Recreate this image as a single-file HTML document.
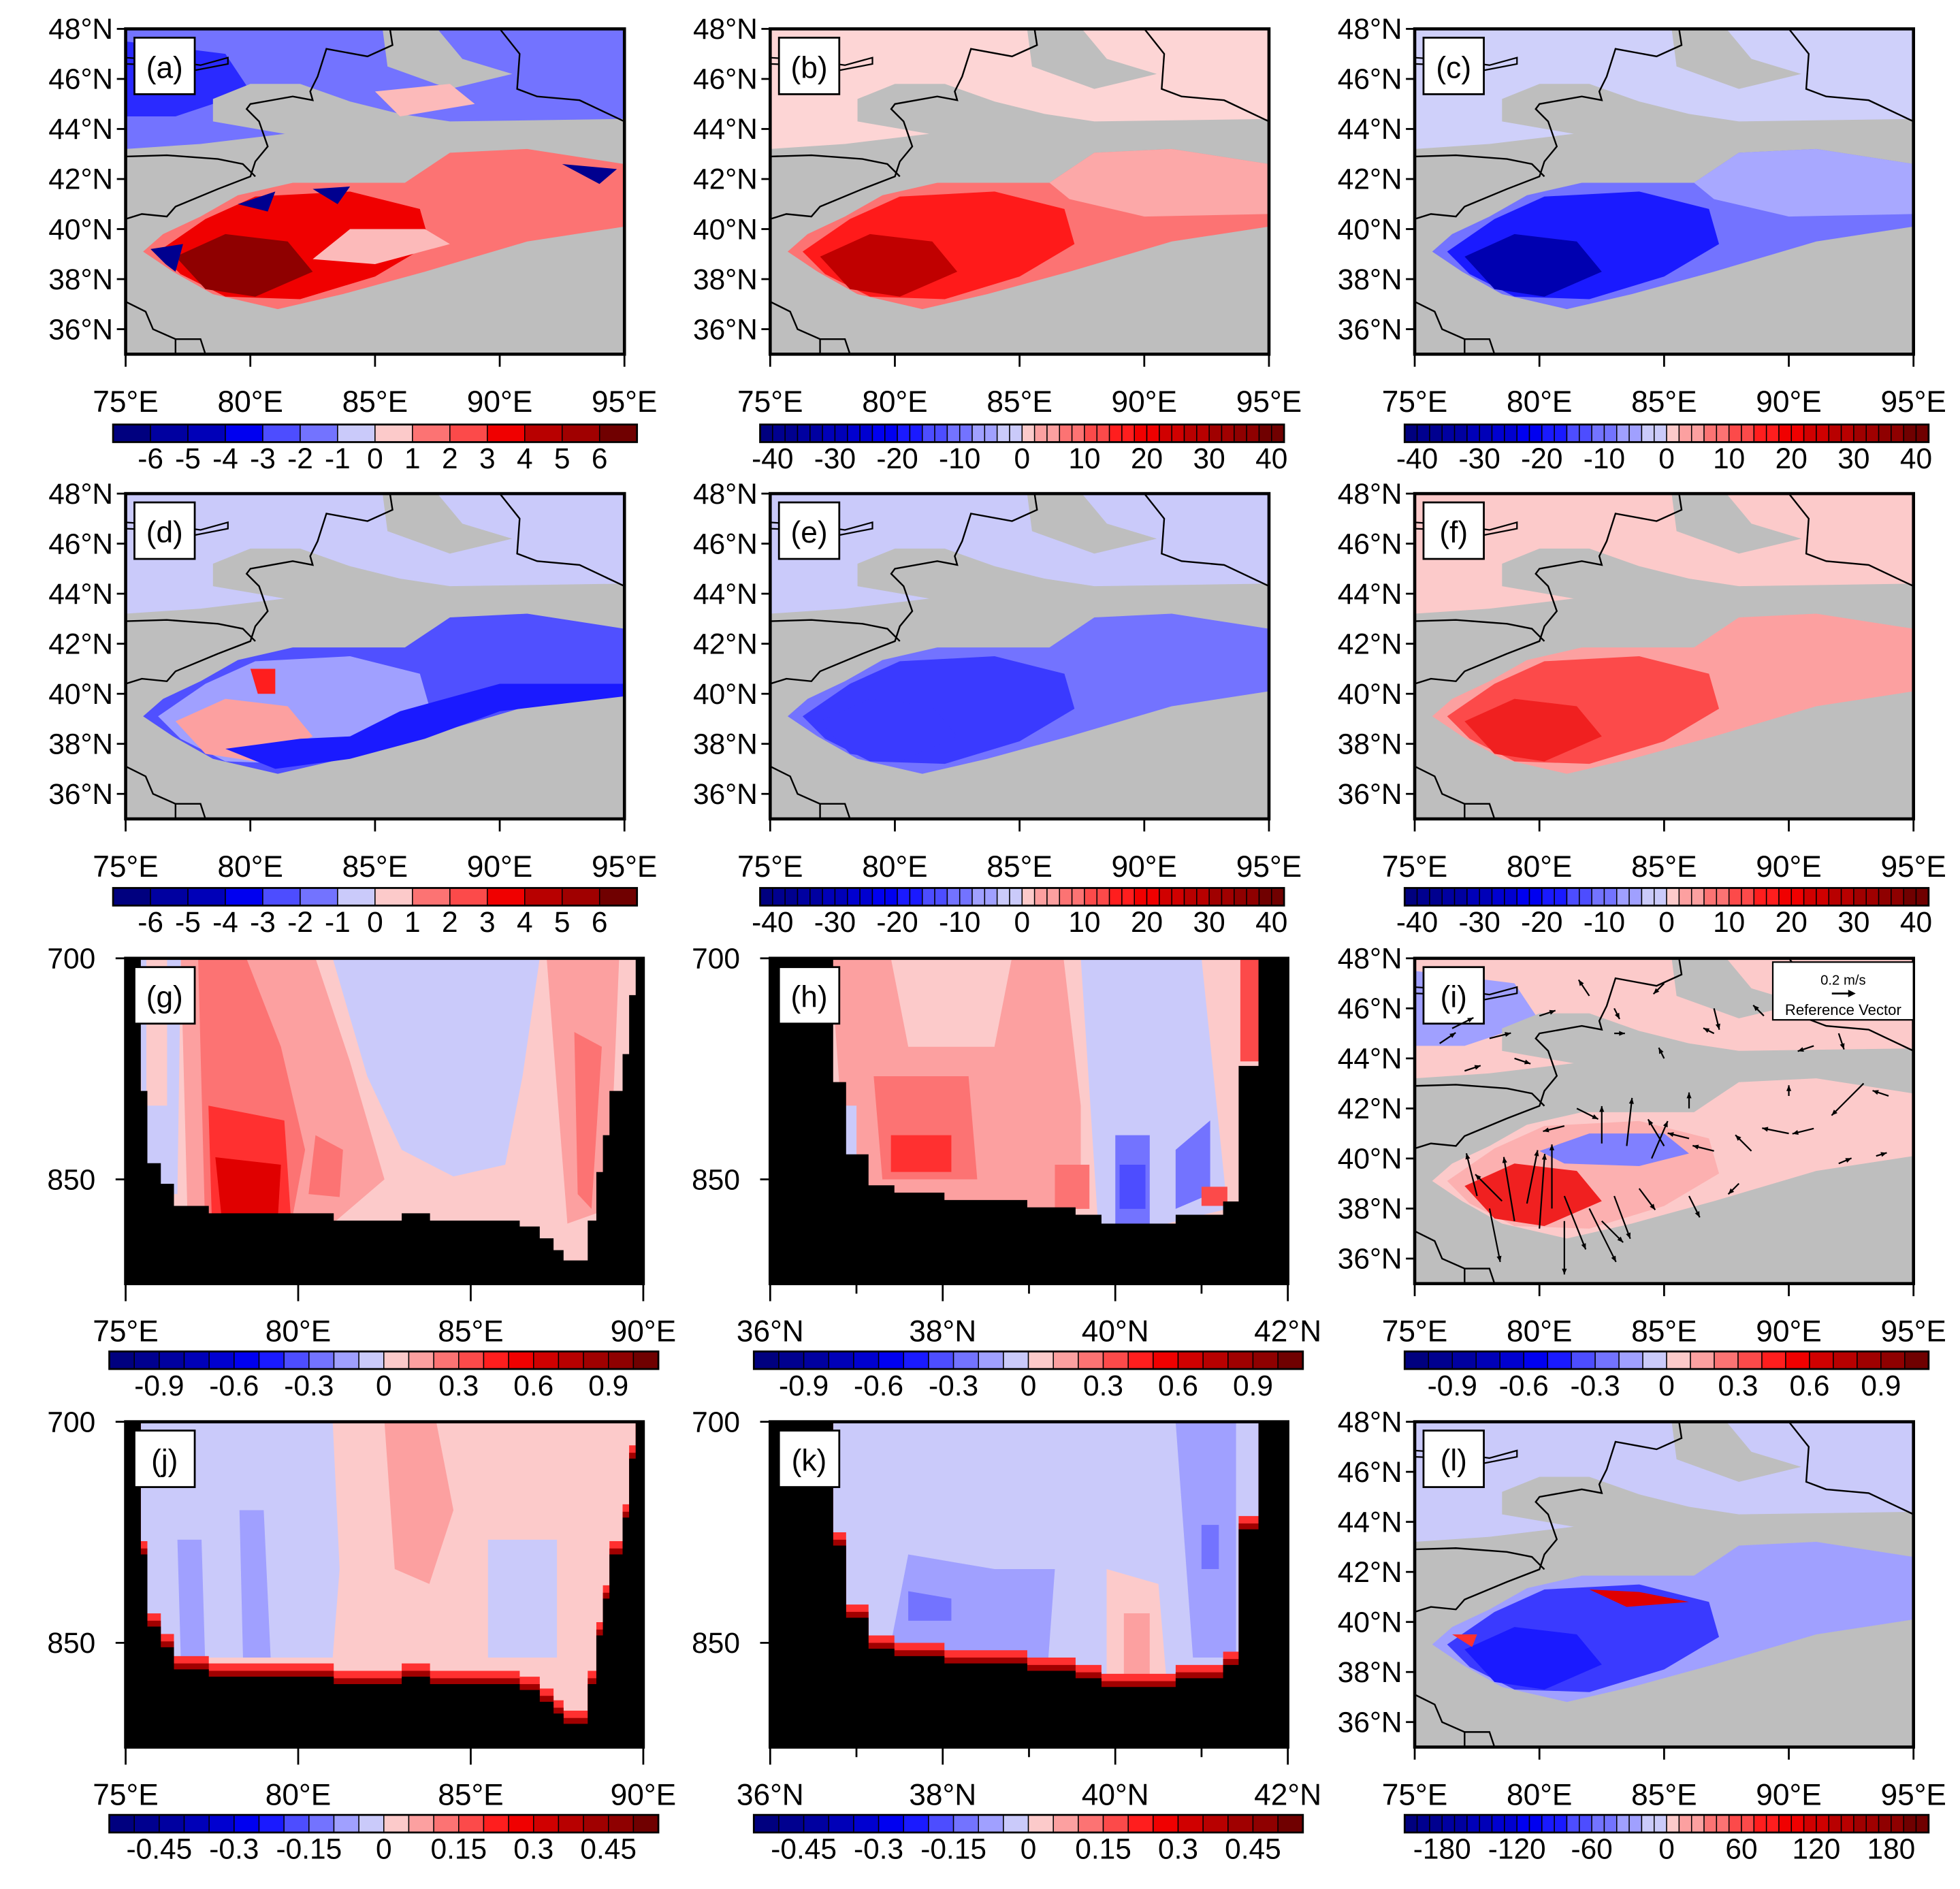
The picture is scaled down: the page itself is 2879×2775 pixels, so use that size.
<!DOCTYPE html>
<html><head><meta charset="utf-8"><style>
html,body{margin:0;padding:0;background:#fff;}
svg{display:block;}
text{font-family:"Liberation Sans",Arial,sans-serif;fill:#000;}
</style></head><body>
<svg id="fig" xmlns="http://www.w3.org/2000/svg" width="2879" height="2775" viewBox="0 0 1560 1504" preserveAspectRatio="none"></svg>
<script>
// ---------- data ----------
const blobOuter=[[75.7,39.1],[76.5,39.8],[78,40.5],[79.5,41.35],[81.7,41.85],[86.2,41.85],[88,43.05],[91.1,43.2],[95,42.6],[95,40.1],[91.1,39.5],[87,38.3],[83.7,37.4],[81.1,36.8],[78.5,37.4],[76.9,38.3]];
const blobInner=[[76.3,39.1],[78.2,40.4],[80.2,41.3],[84,41.5],[86.8,40.8],[87.2,39.4],[85,38.1],[82,37.2],[79,37.3],[77.2,38.2]];
const blobCore=[[77.0,38.9],[79,39.8],[81.5,39.5],[82.5,38.3],[80.2,37.3],[78.2,37.6]];
const grayBands=[[[78.5,45.2],[80,45.8],[82,45.8],[84,45.1],[86,44.6],[88,44.3],[95,44.4],[95,43.6],[88,43.4],[82,43.7],[78.5,44.3]],
 [[85.3,48],[87.5,48],[88.5,46.8],[90.5,46.2],[88,45.6],[85.5,46.5]],
 [[86.2,41.85],[88,43.05],[91,43.2],[91,42.2],[88.5,42],[86.5,41.4]]];
const borders=[[[85.6,48],[85.7,47.35],[84.7,46.9],[83.05,47.2],[82.7,46.1],[82.4,45.5],[82.5,45.15],[81.7,45.3],[80.0,45.0],[79.85,44.8],[80.35,44.3],[80.7,43.3],[80.2,42.7],[80.0,42.1],[78.7,41.6],[77.0,40.9],[76.65,40.5],[75.65,40.6],[75,40.4]],
 [[75,42.9],[76.65,42.95],[78.7,42.8],[79.7,42.6],[80.2,42.1]],
 [[90,48],[90.8,47],[90.7,45.6],[91.5,45.3],[93.2,45.15],[95,44.3]],
 [[75,37.1],[75.8,36.7],[76.1,36],[77,35.6],[77,35]],
 [[77,35.6],[78,35.6],[78.2,35]]];
const lake=[[75,46.85],[76.5,46.75],[78,46.55],[79.1,46.85],[79.1,46.6],[77.8,46.35],[76.3,46.55],[75,46.6]];
// cross-section terrain: edges & surface pressure (hPa)
const gLon=[75,75.44,75.63,76.02,76.4,77.41,81.03,83.0,83.82,86.42,87.0,87.4,87.69,88.39,88.64,88.83,89.02,89.4,89.59,89.78,90];
const gP=[700,790,839,853,868,873,878,873,878,882,890,898,905,878,845,820,790,765,725,700];
const hLat=[36,36.73,36.88,37.14,37.44,38.02,38.98,39.54,39.84,40.70,41.25,41.43,41.66,42];
const hP=[700,784,833,854,859,864,869,874,880,874,865,773,700];
// color levels
const cbA=[-7,-6,-5,-4,-3,-2,-1,0,1,2,3,4,5,6,7];
const cbB=[];for(let v=-42;v<=42;v+=2)cbB.push(v);
const cbG=[];for(let v=-11;v<=11;v++)cbG.push(v/10);
const cbJ=[];for(let v=-11;v<=11;v++)cbJ.push(v*0.05);
const cbL=[];for(let v=-210;v<=210;v+=10)cbL.push(v);
const labA=[-6,-5,-4,-3,-2,-1,0,1,2,3,4,5,6];
const labB=[-40,-30,-20,-10,0,10,20,30,40];
const labG=[-0.9,-0.6,-0.3,0,0.3,0.6,0.9];
const labJ=[-0.45,-0.3,-0.15,0,0.15,0.3,0.45];
const labL=[-180,-120,-60,0,60,120,180];
// wind vectors (lon,lat,u,v m/s)
const wLon=[77.5,78,78.5,79,79.5,80,80.5,81,81,82,82.5,83,84,84.5,83.5,82.5,85,86,87,88.5,90,91,92,93.5,86,88,76.5,76,78,80,82,85,87,89,91,92,93,87,83,79,77,90,86,94,81,81.5,83,85];
const wLat=[38.5,38,38.3,37.5,38.2,37.2,38,37.5,38.5,38,37.5,38.5,38.8,40,40.5,40.6,40.5,40.8,40.3,40.3,41,41.2,39.8,40.1,38.5,39,45.2,44.6,44.8,45.7,46.5,47,46,45.7,44.5,45,43,45,45,44,43.5,42.5,42,42.5,41.3,42,46,44];
const wU=[-0.1,0.1,-0.25,-0.1,0.1,0.05,0,0,0.2,0.25,0.2,0.15,0.15,0.15,0.05,0,-0.15,-0.2,-0.2,-0.15,-0.25,-0.2,0.12,0.1,0.1,-0.1,0.2,0.15,0.2,0.15,-0.1,-0.1,0.05,-0.1,-0.15,0.05,-0.3,-0.1,0.1,0.15,0.15,0,0,-0.15,-0.2,0.2,0.05,-0.05];
const wV=[0.4,-0.5,0.25,0.6,0.5,0.7,0.6,-0.5,-0.5,-0.5,-0.2,-0.4,-0.2,0.35,0.45,0.35,0.25,0.05,0.05,0.15,0.05,-0.05,0.05,0.03,-0.2,-0.1,0.1,0.1,0.05,0.05,0.15,-0.1,-0.2,0.1,-0.05,-0.15,-0.3,0.05,0,-0.05,0.05,0.1,0.15,0.05,-0.05,-0.1,-0.1,0.1];

// ---------- helpers ----------
const NS='http://www.w3.org/2000/svg';
const svg=document.getElementById('fig');
function el(tag,attrs,parent){const e=document.createElementNS(NS,tag);for(const k in attrs)e.setAttribute(k,attrs[k]);(parent||svg).appendChild(e);return e;}
const BLUES=['#00007f','#00008f','#0000a0','#0000b8','#0000d0','#0000f0','#1a1aff','#4d4dff','#7373ff','#a0a0ff','#cacafa'];
const REDS=['#fccaca','#fca0a0','#fc7373','#fc4a4a','#ff1e1e','#f00000','#d00000','#b80000','#a00000','#8f0000','#700000'];
function pal(i,n){const h=n/2;if(i<h){return BLUES[Math.round(i/(h-1||1)*10)];}return REDS[Math.round((i-h)/(h-1||1)*10)];}
function colorbar(x0,y,w,levels,labels,name){
  const g=el('g',{});
  const n=levels.length-1, bw=w/n;
  for(let i=0;i<n;i++){el('rect',{x:x0+i*bw,y:y,width:bw,height:14,fill:pal(i,n),stroke:'#000','stroke-width':0.8},g);}
  el('rect',{x:x0,y:y,width:w,height:14,fill:'none',stroke:'#000','stroke-width':1.5},g);
  labels.forEach(v=>{let idx=0,b=1e9;levels.forEach((l,i)=>{if(Math.abs(l-v)<b){b=Math.abs(l-v);idx=i;}});
    const t=el('text',{x:x0+idx*bw,y:y+35,'font-size':23,'text-anchor':'middle'},g);t.textContent=String(v);});
}
function panelLabel(x,y,s,g){el('rect',{x:x+7,y:y+7,width:48,height:45,fill:'#fff',stroke:'#000','stroke-width':1.5},g);
  const t=el('text',{x:x+31,y:y+39,'font-size':24,'text-anchor':'middle'},g);t.textContent='('+s+')';}
function mapPanel(x0,y0,letter,c){
  const W=397,H=259;
  const X=l=>x0+(l-75)*W/20, Y=a=>y0+(48-a)*H/13;
  const pts=a=>a.map(p=>X(p[0]).toFixed(1)+','+Y(p[1]).toFixed(1)).join(' ');
  const g=el('g',{});
  const cid='clip'+letter;const cp=el('clipPath',{id:cid},g);el('rect',{x:x0,y:y0,width:W,height:H},cp);
  const inner=el('g',{'clip-path':'url(#'+cid+')'},g);
  el('rect',{x:x0,y:y0,width:W,height:H,fill:'#bebebe'},inner);
  el('polygon',{points:pts([[75,48],[95,48],[95,43.8],[88,43.6],[83,44],[78,43.4],[75,43.2]]),fill:c.north},inner);
  if(c.north2)el('polygon',{points:pts([[75,47.5],[79,47],[80,45.5],[77,44.5],[75,44.5]]),fill:c.north2},inner);
  grayBands.forEach(b=>el('polygon',{points:pts(b),fill:'#bebebe'},inner));
  const bl=el('polygon',{points:pts(blobOuter),fill:c.outer},inner);
  el('polygon',{points:pts(blobInner),fill:c.inner},inner);
  el('polygon',{points:pts(blobCore),fill:c.core},inner);
  if(c.extra)c.extra(inner,X,Y,pts);
  borders.forEach(b=>el('polyline',{points:pts(b),fill:'none',stroke:'#000','stroke-width':1.3},inner));
  el('polygon',{points:pts(lake),fill:'none',stroke:'#000','stroke-width':1.2},inner);
  el('rect',{x:x0,y:y0,width:W,height:H,fill:'none',stroke:'#000','stroke-width':2.5},g);
  for(let a=36;a<=48;a+=2){el('line',{x1:x0-7,y1:Y(a),x2:x0,y2:Y(a),stroke:'#000','stroke-width':1.5},g);
    const t=el('text',{x:x0-10,y:Y(a)+8,'font-size':23,'text-anchor':'end'},g);t.textContent=a+'°N';}
  for(let l=75;l<=95;l+=5){el('line',{x1:X(l),y1:y0+H,x2:X(l),y2:y0+H+10,stroke:'#000','stroke-width':1.5},g);
    const t=el('text',{x:X(l),y:y0+H+46,'font-size':24,'text-anchor':'middle'},g);t.textContent=l+'°E';}
  panelLabel(x0,y0,letter,g);
  return {g,X,Y};
}
function crossPanel(x0,y0,letter,edges,pres,lo,hi,ticks,unit,c){
  const W=412,H=259;const X=v=>x0+(v-lo)*W/(hi-lo), P=p=>y0+(p-700)*176/150;
  const g=el('g',{});
  const cid='clip'+letter;const cp=el('clipPath',{id:cid},g);el('rect',{x:x0,y:y0,width:W,height:H},cp);
  const inner=el('g',{'clip-path':'url(#'+cid+')'},g);
  el('rect',{x:x0,y:y0,width:W,height:H,fill:c.bg},inner);
  c.fills.forEach(f=>el('polygon',{points:f[1].map(p=>X(p[0]).toFixed(1)+','+P(p[1]).toFixed(1)).join(' '),fill:f[0]},inner));
  function terr(off){let d='M'+X(edges[0])+','+P(960);for(let i=0;i<pres.length;i++){d+=' L'+X(edges[i])+','+P(pres[i]-off)+' L'+X(edges[i+1])+','+P(pres[i]-off);}d+=' L'+X(edges[edges.length-1])+','+P(960)+'Z';return d;}
  if(c.band){el('path',{d:terr(9),fill:'#ff3030'},inner);el('path',{d:terr(4),fill:'#a00000'},inner);}
  const tp=el('path',{d:terr(0),fill:'#000'},inner);
  el('rect',{x:x0,y:y0,width:W,height:H,fill:'none',stroke:'#000','stroke-width':2.5},g);
  [700,850].forEach(p=>{el('line',{x1:x0-8,y1:P(p),x2:x0,y2:P(p),stroke:'#000','stroke-width':1.5},g);
    const t=el('text',{x:x0-24,y:P(p)+8,'font-size':23,'text-anchor':'end'},g);t.textContent=p;});
  ticks.forEach((v,i)=>{el('line',{x1:X(v),y1:y0+H,x2:X(v),y2:y0+H+(i%2==0||unit=='E'?14:8),stroke:'#000','stroke-width':1.5},g);});
  ticks.filter((v,i)=>unit=='E'||i%2==0).forEach(v=>{const t=el('text',{x:X(v),y:y0+H+46,'font-size':24,'text-anchor':'middle'},g);t.textContent=v+'°'+unit;});
  panelLabel(x0,y0,letter,g);
}
// ---------- panels ----------
const C=[100,613,1126], R=[23,393,763,1132];
mapPanel(C[0],R[0],'a',{north:'#7373ff',north2:'#2a2aff',outer:'#fc7373',inner:'#f00000',core:'#8f0000',
 extra:(g,X,Y,pts)=>{[[[76,39.2],[77.3,39.4],[77,38.3],[76.6,38.6]],[[79.5,41],[81,41.5],[80.7,40.7]],[[82.5,41.6],[84,41.7],[83.5,41]],[[92.5,42.6],[94.7,42.4],[94,41.8]]].forEach(p=>el('polygon',{points:pts(p),fill:'#00008f'},g));
 el('polygon',{points:pts([[84,40],[87,40],[88,39.4],[85,38.6],[82.5,38.8]]),fill:'#fcbaba'},g);
 el('polygon',{points:pts([[85,45.5],[88,45.8],[89,45],[86,44.5]]),fill:'#fcbaba'},g);}});
mapPanel(C[1],R[0],'b',{north:'#fdd5d5',outer:'#fc7373',inner:'#ff1a1a',core:'#c00000',
 extra:(g,X,Y,pts)=>el('polygon',{points:pts([[86.2,41.85],[88,43.05],[91.1,43.2],[95,42.6],[95,40.6],[90,40.5],[87,41.2]]),fill:'#fca8a8'},g)});
mapPanel(C[2],R[0],'c',{north:'#cfd0fa',outer:'#7373ff',inner:'#1a1aff',core:'#0000b0',
 extra:(g,X,Y,pts)=>el('polygon',{points:pts([[86.2,41.85],[88,43.05],[91.1,43.2],[95,42.6],[95,40.6],[90,40.5],[87,41.2]]),fill:'#a8a8ff'},g)});
mapPanel(C[0],R[1],'d',{north:'#cacafa',outer:'#5050ff',inner:'#a0a0ff',core:'#fca0a0',
 extra:(g,X,Y,pts)=>{el('polygon',{points:pts([[80,41],[81,41],[81,40],[80.3,40]]),fill:'#ff1e1e'},g);
 el('polygon',{points:pts([[86,39.3],[90,40.4],[95,40.4],[95,39.9],[90,39.3],[87,38.2],[84,37.4],[81,37.0],[79,37.8],[82,38.2],[84,38.3]]),fill:'#1a1aff'},g);}});
mapPanel(C[1],R[1],'e',{north:'#cacafa',outer:'#7373ff',inner:'#3a3aff',core:'#3a3aff'});
mapPanel(C[2],R[1],'f',{north:'#fccaca',outer:'#fca0a0',inner:'#fc4a4a',core:'#f02020'});
const pi=mapPanel(C[2],R[2],'i',{north:'#fccaca',north2:'#a0a0ff',outer:'#fccaca',inner:'#fcb0b0',core:'#f02020',
 extra:(g,X,Y,pts)=>el('polygon',{points:pts([[80,40.3],[82,41],[85,41],[86,40.2],[84,39.7],[81,39.8]]),fill:'#8080ff'},g)});
// vectors
(function(){const X=pi.X,Y=pi.Y,S=85;const vg=el('g',{});
 for(let i=0;i<wLon.length;i++){const x1=X(wLon[i]),y1=Y(wLat[i]),x2=x1+wU[i]*S,y2=y1-wV[i]*S;
  el('line',{x1,y1,x2,y2,stroke:'#000','stroke-width':1.2},vg);
  const a=Math.atan2(y2-y1,x2-x1),h=5;
  el('polygon',{points:[x2,y2,x2-h*Math.cos(a-0.4),y2-h*Math.sin(a-0.4),x2-h*Math.cos(a+0.4),y2-h*Math.sin(a+0.4)].join(','),fill:'#000'},vg);}
 const rb=el('g',{});
 el('rect',{x:1411,y:766,width:112,height:46,fill:'#fff',stroke:'#000','stroke-width':1.2},rb);
 let t=el('text',{x:1467,y:784,'font-size':11,'text-anchor':'middle'},rb);t.textContent='0.2 m/s';
 el('line',{x1:1458,y1:791,x2:1475,y2:791,stroke:'#000','stroke-width':1.5},rb);
 el('polygon',{points:'1477,791 1471,788 1471,794',fill:'#000'},rb);
 t=el('text',{x:1467,y:808,'font-size':12,'text-anchor':'middle'},rb);t.textContent='Reference Vector';})();
mapPanel(C[2],R[3],'l',{north:'#cacafa',outer:'#a0a0ff',inner:'#3a3aff',core:'#1a1aff',
 extra:(g,X,Y,pts)=>{el('polygon',{points:pts([[82,41.3],[84,41.2],[86,40.8],[83.5,40.6]]),fill:'#e00000'},g);
 el('polygon',{points:pts([[76.5,39.5],[77.5,39.5],[77.3,39]]),fill:'#ff3030'},g);}});
// cross sections
crossPanel(C[0],R[2],'g',gLon,gP,75,90,[75,80,85,90],'E',{bg:'#fccaca',fills:[
 ['#cacafa',[[81,700],[87,700],[86.5,780],[86,840],[84.5,848],[83,830],[82,780],[81.5,740]]],
 ['#fca0a0',[[76.6,700],[80.5,700],[81.5,770],[82.5,850],[81,880],[76.8,880]]],
 ['#fc7373',[[77.1,700],[78.5,700],[79.5,760],[80.2,830],[79.8,880],[77.3,880]]],
 ['#ff3030',[[77.4,800],[79.6,810],[79.8,880],[77.5,880]]],
 ['#e00000',[[77.6,835],[79.5,840],[79.4,880],[77.8,880]]],
 ['#fc7373',[[80.5,820],[81.3,830],[81.2,862],[80.3,860]]],
 ['#fca0a0',[[87.2,700],[89.3,700],[89,870],[87.8,880]]],
 ['#fc7373',[[88,750],[88.8,760],[88.5,870],[88.1,860]]],
 ['#cacafa',[[75.4,700],[76.6,700],[76.5,860],[75.5,860]]],
 ['#fccaca',[[75.6,700],[76.2,700],[76.2,800],[75.6,800]]]]});
crossPanel(C[1],R[2],'h',hLat,hP,36,42,[36,37,38,39,40,41,42],'N',{bg:'#fccaca',fills:[
 ['#fca0a0',[[36.7,700],[39.4,700],[39.6,800],[39.6,870],[36.9,870]]],
 ['#fccaca',[[37.4,700],[38.8,700],[38.6,760],[37.6,760]]],
 ['#fc7373',[[37.2,780],[38.3,780],[38.4,850],[37.3,850]]],
 ['#ff3030',[[37.4,820],[38.1,820],[38.1,845],[37.4,845]]],
 ['#cacafa',[[39.6,700],[41.0,700],[41.3,870],[40.6,880],[39.8,880],[39.7,790]]],
 ['#7373ff',[[40.0,820],[40.4,820],[40.4,880],[40.0,880]]],
 ['#4d4dff',[[40.05,840],[40.35,840],[40.35,870],[40.05,870]]],
 ['#7373ff',[[40.7,830],[41.1,810],[41.1,860],[40.7,870]]],
 ['#fc7373',[[39.3,840],[39.7,840],[39.7,870],[39.3,870]]],
 ['#fc4a4a',[[41.0,855],[41.3,855],[41.3,868],[41.0,868]]],
 ['#fc4a4a',[[41.45,700],[41.7,700],[41.7,770],[41.45,770]]],
 ['#cacafa',[[36.8,800],[37.0,800],[37.0,850],[36.8,850]]]]});
crossPanel(C[0],R[3],'j',gLon,gP,75,90,[75,80,85,90],'E',{band:true,bg:'#fccaca',fills:[
 ['#cacafa',[[75.3,700],[81,700],[81.2,800],[81,860],[76,860],[75.5,860]]],
 ['#a0a0ff',[[76.5,780],[77.2,780],[77.3,860],[76.6,860]]],
 ['#a0a0ff',[[78.3,760],[79,760],[79.2,860],[78.4,860]]],
 ['#fca0a0',[[82.5,700],[84,700],[84.5,760],[83.8,810],[82.8,800]]],
 ['#cacafa',[[85.5,780],[88,780],[88,860],[85.5,860]]],
 ['#fccaca',[[87.5,700],[90,700],[90,900],[87.5,900]]]]});
crossPanel(C[1],R[3],'k',hLat,hP,36,42,[36,37,38,39,40,41,42],'N',{band:true,bg:'#cacafa',fills:[
 ['#a0a0ff',[[37.6,790],[38.6,800],[39.3,800],[39.2,880],[37.3,880]]],
 ['#7373ff',[[37.6,815],[38.1,820],[38.1,835],[37.6,835]]],
 ['#fccaca',[[39.9,800],[40.5,810],[40.6,880],[39.9,880]]],
 ['#fca0a0',[[40.1,830],[40.4,830],[40.4,880],[40.1,880]]],
 ['#a0a0ff',[[40.7,700],[41.4,700],[41.4,860],[40.9,860]]],
 ['#7373ff',[[41.0,770],[41.2,770],[41.2,800],[41.0,800]]]]});
// colorbars
colorbar(90,338,417,cbA,labA,'colorbar-a');
colorbar(605,338,417,cbB,labB,'colorbar-b');
colorbar(1118,338,417,cbB,labB,'colorbar-c');
colorbar(90,707,417,cbA,labA,'colorbar-d');
colorbar(605,707,417,cbB,labB,'colorbar-e');
colorbar(1118,707,417,cbB,labB,'colorbar-f');
colorbar(87,1076,437,cbG,labG,'colorbar-g');
colorbar(600,1076,437,cbG,labG,'colorbar-h');
colorbar(1118,1076,417,cbG,labG,'colorbar-i');
colorbar(87,1445,437,cbJ,labJ,'colorbar-j');
colorbar(600,1445,437,cbJ,labJ,'colorbar-k');
colorbar(1118,1445,417,cbL,labL,'colorbar-l');
</script>
</body></html>
